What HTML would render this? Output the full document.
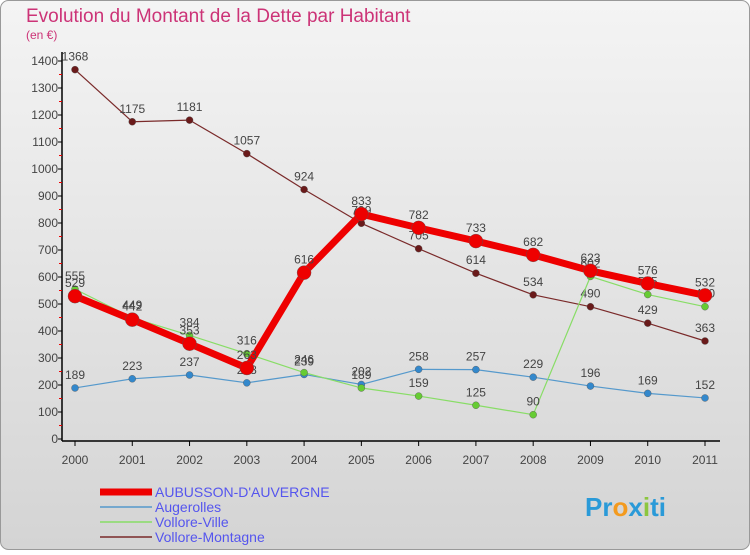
<!DOCTYPE html>
<html><head><meta charset="utf-8"><style>
body{margin:0;width:750px;height:550px;overflow:hidden;font-family:"Liberation Sans",sans-serif}
</style></head><body>
<svg width="750" height="550" xmlns="http://www.w3.org/2000/svg">
<defs><linearGradient id="bg" x1="0" y1="0" x2="0" y2="1"><stop offset="0" stop-color="#f4f4f4"/><stop offset="1" stop-color="#d4d4d4"/></linearGradient></defs>
<rect x="0.5" y="0.5" width="749" height="549" rx="8" fill="url(#bg)" stroke="#999"/>
<text x="26" y="22" font-size="19" fill="#cc3377">Evolution du Montant de la Dette par Habitant</text>
<text x="26" y="39" font-size="12" fill="#cc3377">(en €)</text>
<g id="axes"></g><g id="series"></g><g id="legend"></g>
<text x="585" y="516" font-size="26" font-weight="bold" fill="#2a9ad8">Pr<tspan fill="#f39a1e">o</tspan>x<tspan fill="#8cc63f">i</tspan>ti</text>
</svg>
<script>
const years=["2000","2001","2002","2003","2004","2005","2006","2007","2008","2009","2010","2011"];
const yTicks=[0,100,200,300,400,500,600,700,800,900,1000,1100,1200,1300,1400];
const seriesNames=["AUBUSSON-D'AUVERGNE","Augerolles","Vollore-Ville","Vollore-Montagne"];
const aubusson=[529,442,353,263,616,833,782,733,682,623,576,532];
const augerolles=[189,223,237,208,239,202,258,257,229,196,169,152];
const volloreVille=[555,449,384,316,246,189,159,125,90,602,535,490];
const volloreMontagne=[1368,1175,1181,1057,924,799,705,614,534,490,429,363];
const NS="http://www.w3.org/2000/svg";
const X=i=>75+i*(630/11), Y=v=>439-v*(378/1400);
function mk(t,a,p){const e=document.createElementNS(NS,t);for(const k in a)e.setAttribute(k,a[k]);(p||document.getElementById('series')).appendChild(e);return e;}
const ax=document.getElementById('axes');
let l=mk('line',{x1:62,y1:Y(0)+2,x2:62,y2:52,stroke:'#000','stroke-width':1.5},ax);


l=mk('line',{x1:62,y1:Y(0)+2,x2:720,y2:Y(0)+2,stroke:'#000','stroke-width':1.5},ax);


yTicks.forEach(v=>{const t=mk('text',{x:58,y:Y(v)+4,'font-size':12,'text-anchor':'end',fill:'#444'},ax);t.textContent=v;


mk('line',{x1:58,y1:Y(v),x2:62,y2:Y(v),stroke:'#000'},ax);
if(v<1400)mk('line',{x1:59,y1:Y(v+50),x2:62,y2:Y(v+50),stroke:'#e00'},ax);});
years.forEach((y,i)=>{mk('line',{x1:X(i),y1:Y(0)+2,x2:X(i),y2:Y(0)+7,stroke:'#000'},ax);
const t=mk('text',{x:X(i),y:Y(0)+25,'font-size':12,'text-anchor':'middle',fill:'#444'},ax);t.textContent=y;

});
const cfg=[[volloreMontagne,'#7a2a2a',1.2,3.5,'#6a1a1a'],[augerolles,'#5599cc',1.2,3.5,'#3388cc'],[volloreVille,'#88dd66',1.2,3.5,'#66cc33'],[aubusson,'#ee0000',7,7,'#ee0000']];
const order=[3,1,2,0];
cfg.forEach((c,k)=>{const d=c[0];const g=mk('g',{});


mk('polyline',{points:d.map((v,i)=>X(i)+','+Y(v)).join(' '),fill:'none',stroke:c[1],'stroke-width':c[2],'stroke-linejoin':'round'},g);
d.forEach((v,i)=>{const p=mk('circle',{cx:X(i),cy:Y(v),r:c[3],fill:c[4],stroke:'#555','stroke-width':0.4},g);


const t=mk('text',{x:X(i),y:Y(v)-9,'font-size':12,'text-anchor':'middle',fill:'#444'},g);t.textContent=v;

});});
const lg=document.getElementById('legend');
[['#ee0000',7],['#5599cc',1.5],['#88dd66',1.5],['#7a2a2a',1.5]].forEach((c,i)=>{const y=492+i*15;
mk('line',{x1:100,y1:y,x2:152,y2:y,stroke:c[0],'stroke-width':c[1]},lg);
const t=mk('text',{x:155,y:y+5,'font-size':14,fill:'#5555ee'},lg);t.textContent=seriesNames[i];

});
</script>
</body></html>
